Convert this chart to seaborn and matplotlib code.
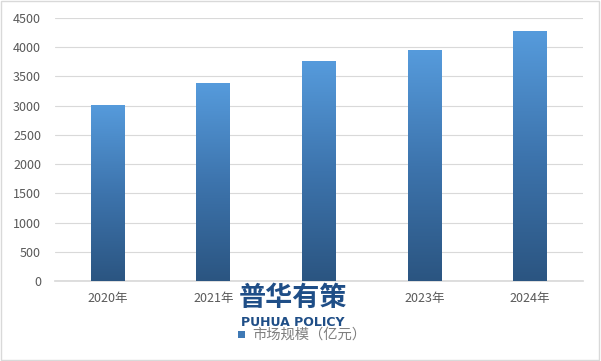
import numpy as np
import pandas as pd
import matplotlib
matplotlib.use("Agg")
import matplotlib.pyplot as plt
import seaborn as sns
from matplotlib.colors import LinearSegmentedColormap
from matplotlib.patches import Rectangle

# data
years = ["2020年", "2021年", "2022年", "2023年", "2024年"]
market_size = [3020, 3380, 3760, 3950, 4270]
y_ticks = [0, 500, 1000, 1500, 2000, 2500, 3000, 3500, 4000, 4500]
legend_label = "市场规模（亿元）"

df = pd.DataFrame({"year": years, "value": market_size})

sns.set_theme(style="white")
plt.rcParams['font.family'] = ['Noto Sans CJK SC', 'DejaVu Sans']

fig = plt.figure(figsize=(6.01, 3.61), dpi=100)
ax = fig.add_axes([0.0915, 0.2216, 0.8785, 0.7284])

sns.barplot(data=df, x="year", y="value", ax=ax, width=0.32, color="#4a8acb", zorder=2)

# gradient fill in each bar
cmap = LinearSegmentedColormap.from_list("bluegrad", ["#2b5581", "#3d74ad", "#569bdc"])
grad = np.linspace(0, 1, 256).reshape(-1, 1)
for bar in ax.patches:
    x0, y0 = bar.get_x(), bar.get_y()
    w, h = bar.get_width(), bar.get_height()
    im = ax.imshow(grad, cmap=cmap, aspect="auto", origin="lower",
                   extent=[x0, x0 + w, y0, y0 + h], zorder=3)
    im.set_clip_path(bar)
    bar.set_facecolor("none")
    bar.set_edgecolor("none")

ax.set_xlim(-0.5, 4.5)
ax.set_ylim(0, 4500)
ax.set_yticks(y_ticks)
ax.yaxis.grid(True, color="#d9d9d9", linewidth=0.8, zorder=0)
ax.set_axisbelow(True)
for s in ["top", "right", "left"]:
    ax.spines[s].set_visible(False)
ax.spines["bottom"].set_color("#d9d9d9")
ax.set_xlabel("")
ax.set_ylabel("")
ax.tick_params(axis="both", length=0, labelsize=9, labelcolor="#595959", pad=8)
ax.tick_params(axis="y", pad=10)

# legend
fig.patches.append(Rectangle((238 / 601, 1 - 338 / 361), 7 / 601, 7 / 361,
                             transform=fig.transFigure, facecolor="#3f79b5",
                             edgecolor="none"))
fig.text(252 / 601, 1 - 335 / 361, legend_label, fontsize=10.3, color="#7f7f7f",
         va="center", ha="left")

# watermark (white box hides what lies under it, as in the source image)
fig.patches.append(Rectangle((243 / 601, 1 - 318 / 361), 100 / 601, 33 / 361,
                             transform=fig.transFigure, facecolor="white",
                             edgecolor="none", zorder=5))
fig.text(293 / 601, 1 - 298 / 361, "普华有策", fontsize=19.5, fontweight="heavy",
         color="#1f4e87", ha="center", va="center", zorder=6)
fig.text(293 / 601, 1 - 323 / 361, "PUHUA POLICY", fontsize=9, fontweight="bold",
         color="#1f4e87", ha="center", va="center", family="DejaVu Sans", zorder=6)

# outer border
fig.patches.append(Rectangle((0.002, 0.003), 0.995, 0.994, transform=fig.transFigure,
                             facecolor="none", edgecolor="#d9d9d9", linewidth=1))

fig.savefig("out.png", dpi=100)
